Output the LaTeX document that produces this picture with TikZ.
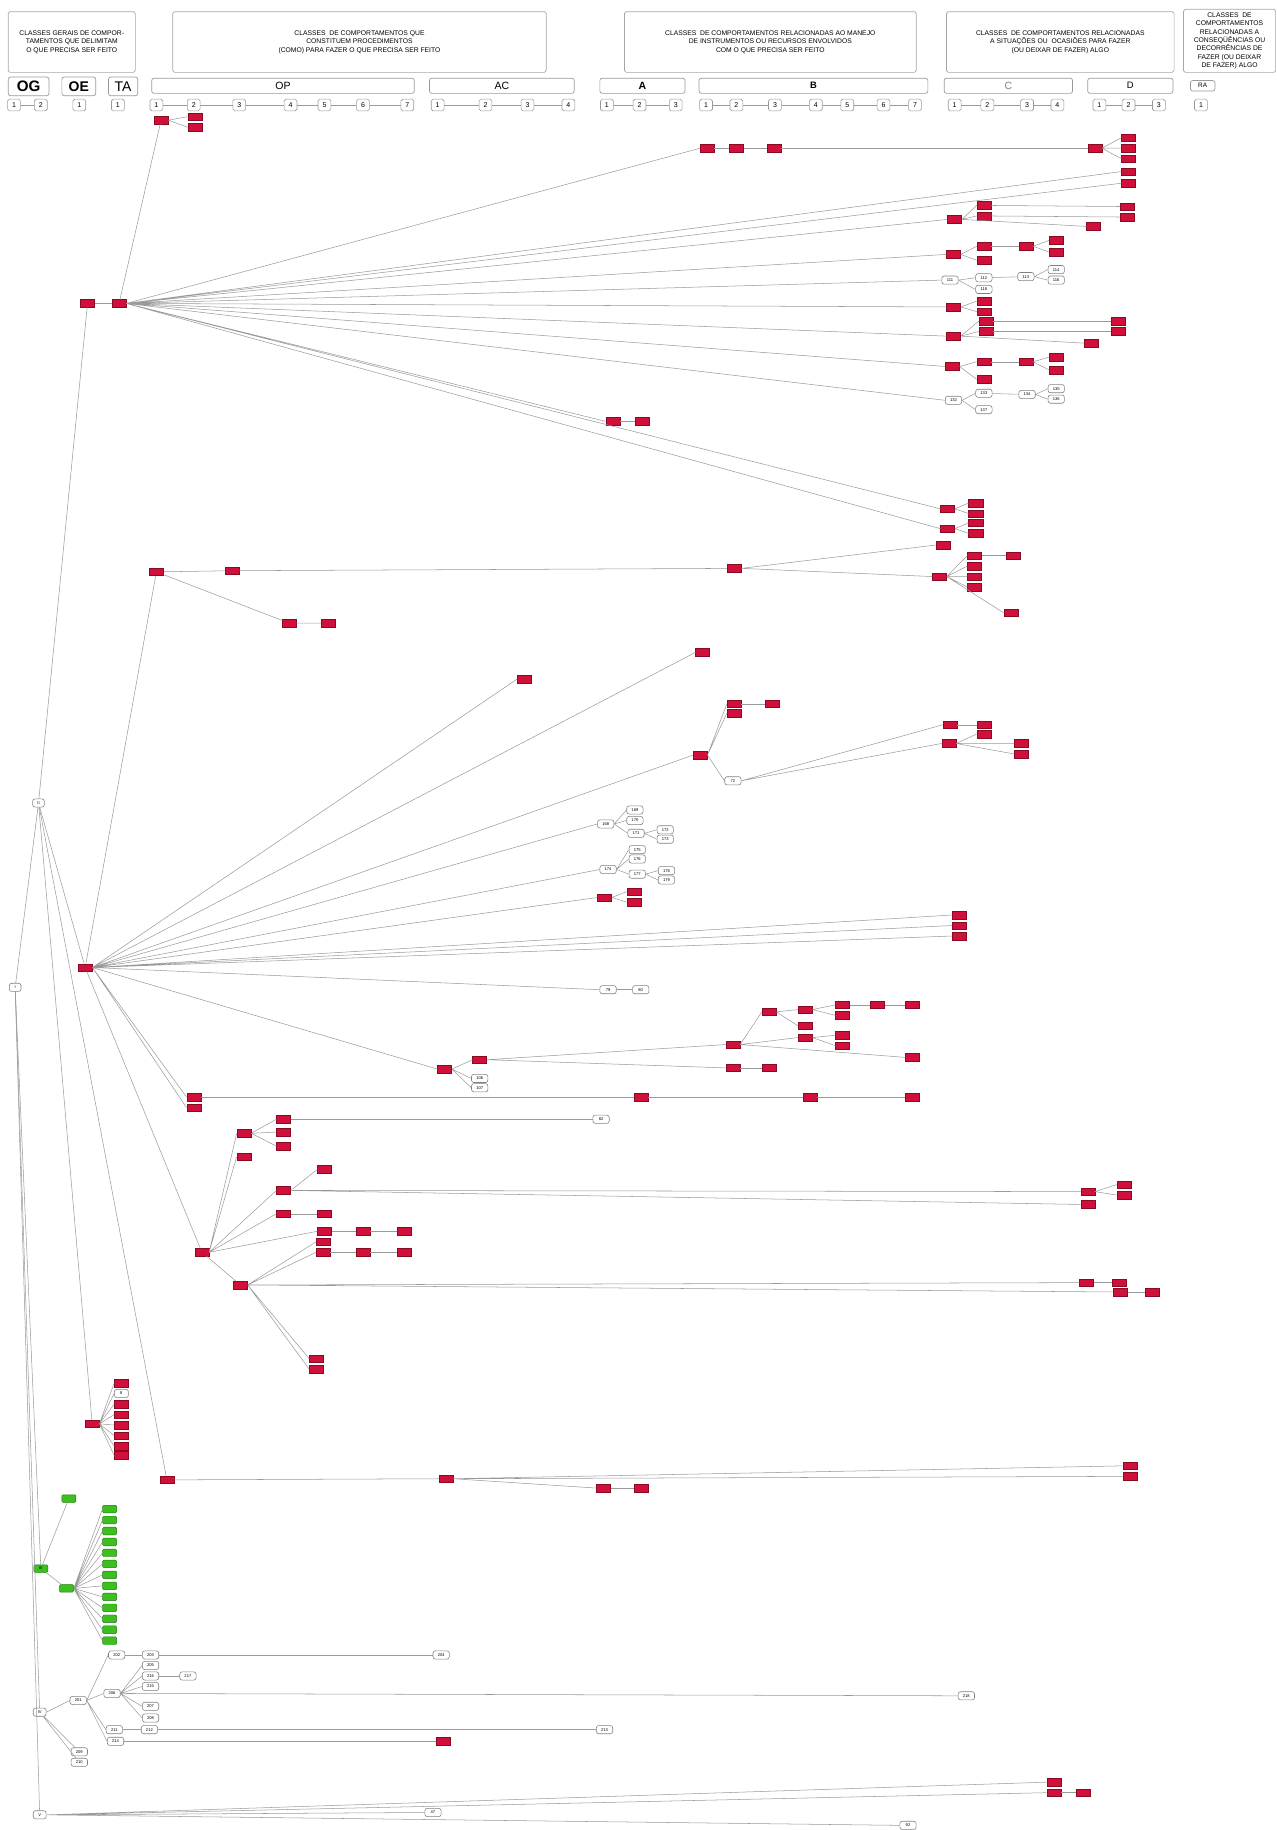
\documentclass[tikz,border=0pt]{standalone}
\usepackage{fontspec}
\setmainfont{Liberation Sans}
\definecolor{redfill}{HTML}{D0103A}
\definecolor{redline}{HTML}{8A0A22}
\definecolor{greenfill}{HTML}{3CC01E}
\definecolor{greenline}{HTML}{1F7A10}
\definecolor{edgegray}{HTML}{9A9A9A}

\begin{document}
\begin{tikzpicture}[x=1pt, y=-1pt,
    hdr/.style = {draw=gray!70, rounded corners=1.5pt, line width=0.6pt,
      align=center, inner sep=0pt, font=\fontsize{5.8}{7.2}\selectfont},
    lvl/.style = {draw=gray!80, rounded corners=2pt, line width=0.6pt,
      minimum height=13pt, inner sep=0pt, font=\fontsize{9}{9}\selectfont},
    num/.style = {draw=gray!80, rounded corners=1.5pt, line width=0.5pt,
      minimum width=11pt, minimum height=10pt, inner sep=0pt,
      font=\fontsize{6}{6}\selectfont},
    base/.style = {rectangle, minimum width=12pt, minimum height=6.5pt,
      inner sep=0pt, font=\fontsize{3.5}{3.5}\selectfont},
    rn/.style = {base, fill=redfill, draw=redline, line width=0.35pt},
    wn/.style = {base, draw=gray, rounded corners=2pt, fill=white,
      minimum width=14pt, minimum height=7pt, line width=0.5pt},
    gn/.style = {base, fill=greenfill, draw=greenline, rounded corners=1pt},
    edge/.style = {draw=edgegray, line width=0.45pt}
]
  \useasboundingbox (0,0) rectangle (1094,1568);

  % header boxes
  \node[hdr, minimum width=109pt, minimum height=52pt] (hOG) at (61.5,36)
    {CLASSES GERAIS DE COMPOR-\\TAMENTOS QUE DELIMITAM\\O QUE PRECISA SER FEITO};
  \node[hdr, minimum width=320pt, minimum height=52pt] (hOP) at (308,36)
    {CLASSES\ \ DE COMPORTAMENTOS QUE\\CONSTITUEM PROCEDIMENTOS\\(COMO) PARA FAZER O QUE PRECISA SER FEITO};
  \node[hdr, minimum width=250pt, minimum height=52pt] (hAB) at (660,36)
    {CLASSES\ \ DE COMPORTAMENTOS RELACIONADAS AO MANEJO\\DE INSTRUMENTOS OU RECURSOS ENVOLVIDOS\\COM O QUE PRECISA SER FEITO};
  \node[hdr, minimum width=195pt, minimum height=52pt] (hCD) at (908.5,36)
    {CLASSES\ \ DE COMPORTAMENTOS RELACIONADAS\\A SITUAÇÕES OU\ \ OCASIÕES PARA FAZER\\(OU DEIXAR DE FAZER) ALGO};
  \node[hdr, minimum width=79pt, minimum height=54pt] (hRA) at (1053.5,35)
    {CLASSES\ \ DE\\COMPORTAMENTOS\\RELACIONADAS A\\CONSEQÜÊNCIAS OU\\DECORRÊNCIAS DE\\FAZER (OU DEIXAR\\DE FAZER) ALGO};

  % level boxes
  \node[lvl, minimum width=35pt, minimum height=16pt, font=\fontsize{13}{13}\selectfont\bfseries] (lOG) at (24.5,74) {OG};
  \node[lvl, minimum width=29pt, minimum height=16pt, font=\fontsize{12}{12}\selectfont\bfseries] (lOE) at (67.5,74) {OE};
  \node[lvl, minimum width=25pt, minimum height=16pt, font=\fontsize{12}{12}\selectfont] (lTA) at (105.5,74) {TA};
  \node[lvl, minimum width=225pt] (lOP) at (242.5,73.5) {OP};
  \node[lvl, minimum width=124pt] (lAC) at (430,73.5) {AC};
  \node[lvl, minimum width=73pt, font=\fontsize{9}{9}\selectfont\bfseries] (lA) at (550.5,73.5) {A};
  \node[lvl, minimum width=196pt, font=\fontsize{8}{8}\selectfont\bfseries] (lB) at (697,73.5) {B};
  \node[lvl, minimum width=110pt, text=gray] (lC) at (864,73.5) {C};
  \node[lvl, minimum width=73pt, font=\fontsize{8}{8}\selectfont] (lD) at (968.5,73.5) {D};
  \node[lvl, minimum width=21pt, minimum height=9pt, font=\fontsize{5.5}{5.5}\selectfont] (lRA) at (1030.5,73.5) {RA};

  % numbered steps
  \node[num] (og1) at (12,90) {1};  \node[num] (og2) at (35,90) {2};
  \node[num] (oe1) at (68,90) {1};
  \node[num] (ta1) at (101,90) {1};
  \node[num] (op1) at (134,90) {1}; \node[num] (op2) at (166,90) {2};
  \node[num] (op3) at (205,90) {3}; \node[num] (op4) at (249,90) {4};
  \node[num] (op5) at (278,90) {5}; \node[num] (op6) at (311,90) {6};
  \node[num] (op7) at (349,90) {7};
  \node[num] (ac1) at (375,90) {1}; \node[num] (ac2) at (416,90) {2};
  \node[num] (ac3) at (452,90) {3}; \node[num] (ac4) at (487,90) {4};
  \node[num] (a1) at (520,90) {1};  \node[num] (a2) at (548,90) {2};
  \node[num] (a3) at (579,90) {3};
  \node[num] (b1) at (605,90) {1};  \node[num] (b2) at (631,90) {2};
  \node[num] (b3) at (664,90) {3};  \node[num] (b4) at (699,90) {4};
  \node[num] (b5) at (726,90) {5};  \node[num] (b6) at (757,90) {6};
  \node[num] (b7) at (784,90) {7};
  \node[num] (c1) at (818,90) {1};  \node[num] (c2) at (846,90) {2};
  \node[num] (c3) at (880,90) {3};  \node[num] (c4) at (906,90) {4};
  \node[num] (d1) at (942,90) {1};  \node[num] (d2) at (967,90) {2};
  \node[num] (d3) at (993,90) {3};
  \node[num] (ra1) at (1029,90) {1};

  \draw[edge] (og1) -- (og2);
  \draw[edge] (op1) -- (op2) -- (op3) -- (op4) -- (op5) -- (op6) -- (op7);
  \draw[edge] (ac1) -- (ac2) -- (ac3) -- (ac4);
  \draw[edge] (a1) -- (a2) -- (a3);
  \draw[edge] (b1) -- (b2) -- (b3) -- (b4) -- (b5) -- (b6) -- (b7);
  \draw[edge] (c1) -- (c2) -- (c3) -- (c4);
  \draw[edge] (d1) -- (d2) -- (d3);

  % roots
  \node[wn, minimum width=10pt] (wI) at (13,846) {I};
  \node[wn, minimum width=10pt] (wII) at (33,688) {II};
  \node[gn] (gIII) at (35,1344) {III};
  \node[wn, minimum width=11pt] (wIV) at (34,1467) {IV};
  \node[wn, minimum width=11pt] (wV) at (34,1555) {V};

  % branch A
  \node[rn] (rA1) at (75,260) {};   \node[rn] (rA2) at (102,260) {};
  \node[rn] (rA3) at (138,103) {};  \node[rn] (rA4) at (167,100) {};
  \node[rn] (rA5) at (167,109) {};
  \node[rn] (rA6) at (606,127) {};  \node[rn] (rA7) at (631,127) {};
  \node[rn] (rA8) at (663,127) {};  \node[rn] (rA9) at (938,127) {};
  \node[rn] (rA10) at (967,118) {}; \node[rn] (rA11) at (967,127) {};
  \node[rn] (rA12) at (967,136) {};
  \node[rn] (rA13) at (967,147) {}; \node[rn] (rA14) at (967,157) {};
  \node[rn] (rA15) at (818,188) {}; \node[rn] (rA16) at (843,176) {};
  \node[rn] (rA17) at (843,185) {}; \node[rn] (rA18) at (966,177) {};
  \node[rn] (rA19) at (966,186) {}; \node[rn] (rA20) at (937,194) {};
  \node[rn] (rA21) at (817,218) {}; \node[rn] (rA22) at (843,211) {};
  \node[rn] (rA23) at (843,223) {}; \node[rn] (rA24) at (879,211) {};
  \node[rn] (rA25) at (905,206) {}; \node[rn] (rA26) at (905,216) {};
  \node[wn] (w111) at (814,240) {111}; \node[wn] (w112) at (843,238) {112};
  \node[wn] (w118) at (843,248) {118}; \node[wn] (w113) at (879,237) {113};
  \node[wn] (w114) at (905,231) {114}; \node[wn] (w116) at (905,240) {116};
  \node[rn] (rA27) at (817,263) {}; \node[rn] (rA28) at (843,258) {};
  \node[rn] (rA29) at (843,267) {};
  \node[rn] (rA30) at (817,288) {}; \node[rn] (rA31) at (845,275) {};
  \node[rn] (rA32) at (845,284) {}; \node[rn] (rA33) at (958,275) {};
  \node[rn] (rA34) at (958,284) {}; \node[rn] (rA35) at (935,294) {};
  \node[rn] (rA36) at (816,314) {}; \node[rn] (rA37) at (843,310) {};
  \node[rn] (rA38) at (843,325) {}; \node[rn] (rA39) at (879,310) {};
  \node[rn] (rA40) at (905,306) {}; \node[rn] (rA41) at (905,317) {};
  \node[wn] (w132) at (817,343) {132}; \node[wn] (w133) at (843,337) {133};
  \node[wn] (w137) at (843,351) {137}; \node[wn] (w134) at (880,338) {134};
  \node[wn] (w135) at (905,333) {135}; \node[wn] (w136) at (905,342) {136};
  \node[rn] (rA42) at (525,361) {}; \node[rn] (rA43) at (550,361) {};
  \node[rn] (rA44) at (812,436) {}; \node[rn] (rA45) at (836,431) {};
  \node[rn] (rA46) at (836,440) {};
  \node[rn] (rA47) at (812,453) {}; \node[rn] (rA48) at (836,448) {};
  \node[rn] (rA49) at (836,457) {};

  % branch B and C
  \node[rn] (rC) at (73,829) {};
  \node[rn] (rB1) at (134,490) {};  \node[rn] (rB2) at (199,489) {};
  \node[rn] (rB3) at (629,487) {};  \node[rn] (rB4) at (808,467) {};
  \node[rn] (rB5) at (805,494) {};  \node[rn] (rB6) at (835,476) {};
  \node[rn] (rB7) at (835,485) {};  \node[rn] (rB8) at (835,494) {};
  \node[rn] (rB9) at (835,503) {};  \node[rn] (rB10) at (868,476) {};
  \node[rn] (rB11) at (866,525) {};
  \node[rn] (rB12) at (248,534) {}; \node[rn] (rB13) at (281,534) {};

  \node[rn] (rC1) at (449,582) {};
  \node[rn] (rC2) at (602,559) {};
  \node[rn] (rC3) at (600,647) {};  \node[rn] (rC4) at (629,603) {};
  \node[rn] (rC5) at (629,611) {};  \node[rn] (rC6) at (662,603) {};
  \node[wn] (w72) at (628,669) {72};
  \node[rn] (rC7) at (814,621) {};  \node[rn] (rC8) at (843,621) {};
  \node[rn] (rC9) at (813,637) {};  \node[rn] (rC10) at (843,629) {};
  \node[rn] (rC11) at (875,637) {}; \node[rn] (rC12) at (875,646) {};
  \node[wn] (w168) at (519,706) {168}; \node[wn] (w169) at (544,694) {169};
  \node[wn] (w170) at (544,703) {170}; \node[wn] (w171) at (545,714) {171};
  \node[wn] (w172) at (570,711) {172}; \node[wn] (w173) at (570,719) {173};
  \node[wn] (w174) at (521,745) {174}; \node[wn] (w175) at (546,728) {175};
  \node[wn] (w176) at (546,736) {176}; \node[wn] (w177) at (546,749) {177};
  \node[wn] (w178) at (571,746) {178}; \node[wn] (w179) at (571,754) {179};
  \node[rn] (rC13) at (518,769) {}; \node[rn] (rC14) at (543,764) {};
  \node[rn] (rC15) at (543,773) {};
  \node[rn] (rC16) at (822,784) {}; \node[rn] (rC17) at (822,793) {};
  \node[rn] (rC18) at (822,802) {};
  \node[wn] (w79) at (521,848) {79}; \node[wn] (w80) at (549,848) {80};
  \node[rn] (rC19) at (381,916) {}; \node[rn] (rC20) at (411,908) {};
  \node[wn] (w106) at (411,924) {106}; \node[wn] (w107) at (411,932) {107};
  \node[rn] (rC21) at (628,895) {}; \node[rn] (rC22) at (659,867) {};
  \node[rn] (rC23) at (690,865) {}; \node[rn] (rC24) at (690,879) {};
  \node[rn] (rC25) at (722,861) {}; \node[rn] (rC26) at (722,870) {};
  \node[rn] (rC27) at (752,861) {}; \node[rn] (rC28) at (782,861) {};
  \node[rn] (rC29) at (690,889) {}; \node[rn] (rC30) at (722,887) {};
  \node[rn] (rC31) at (722,896) {}; \node[rn] (rC32) at (782,906) {};
  \node[rn] (rC33) at (628,915) {}; \node[rn] (rC34) at (659,915) {};
  \node[rn] (rC35) at (166,940) {}; \node[rn] (rC36) at (549,940) {};
  \node[rn] (rC37) at (694,940) {}; \node[rn] (rC38) at (782,940) {};
  \node[rn] (rC39) at (166,949) {};

  % branch D
  \node[rn] (rD) at (173,1073) {};
  \node[rn] (rD1) at (209,971) {};  \node[rn] (rD2) at (243,959) {};
  \node[rn] (rD3) at (243,970) {};  \node[rn] (rD4) at (243,982) {};
  \node[wn] (w82) at (515,959) {82};
  \node[rn] (rD5) at (209,991) {};
  \node[rn] (rD6) at (243,1020) {}; \node[rn] (rD7) at (278,1002) {};
  \node[rn] (rD8) at (932,1021) {}; \node[rn] (rD9) at (963,1015) {};
  \node[rn] (rD10) at (963,1024) {}; \node[rn] (rD11) at (932,1032) {};
  \node[rn] (rD12) at (243,1040) {}; \node[rn] (rD13) at (278,1040) {};
  \node[rn] (rD14) at (278,1055) {}; \node[rn] (rD15) at (311,1055) {};
  \node[rn] (rD16) at (346,1055) {};
  \node[rn] (rD17) at (277,1064) {};
  \node[rn] (rD18) at (277,1073) {}; \node[rn] (rD19) at (311,1073) {};
  \node[rn] (rD20) at (346,1073) {};
  \node[rn] (rD21) at (206,1101) {}; \node[rn] (rD22) at (931,1099) {};
  \node[rn] (rD23) at (959,1099) {}; \node[rn] (rD24) at (960,1107) {};
  \node[rn] (rD25) at (987,1107) {};
  \node[rn] (rD26) at (271,1164) {}; \node[rn] (rD27) at (271,1173) {};

  % branch E and F
  \node[rn] (rE) at (79,1220) {};
  \node[rn] (rE1) at (104,1185) {}; \node[wn, minimum width=12pt] (w8) at (104,1194) {8};
  \node[rn] (rE2) at (104,1203) {}; \node[rn] (rE3) at (104,1212) {};
  \node[rn] (rE4) at (104,1221) {}; \node[rn] (rE5) at (104,1230) {};
  \node[rn] (rE6) at (104,1239) {}; \node[rn] (rE7) at (104,1247) {};
  \node[rn] (rF) at (143,1268) {};  \node[rn] (rF1) at (382,1267) {};
  \node[rn] (rF2) at (968,1256) {}; \node[rn] (rF3) at (968,1265) {};
  \node[rn] (rF4) at (517,1275) {}; \node[rn] (rF5) at (549,1275) {};

  % branch III
  \node[gn] (g2) at (59,1284) {};
  \node[gn] (g3) at (57,1361) {};
  \node[gn] (g4) at (94,1293) {};   \node[gn] (g5) at (94,1302.4) {};
  \node[gn] (g6) at (94,1311.8) {}; \node[gn] (g7) at (94,1321.2) {};
  \node[gn] (g8) at (94,1330.6) {}; \node[gn] (g9) at (94,1340) {};
  \node[gn] (g10) at (94,1349.4) {}; \node[gn] (g11) at (94,1358.8) {};
  \node[gn] (g12) at (94,1368.2) {}; \node[gn] (g13) at (94,1377.6) {};
  \node[gn] (g14) at (94,1387) {};  \node[gn] (g15) at (94,1396.4) {};
  \node[gn] (g16) at (94,1405.8) {};

  % branch IV
  \node[wn] (w201) at (67,1457) {201};
  \node[wn] (w202) at (100,1418) {202}; \node[wn] (w203) at (129,1418) {203};
  \node[wn] (w204) at (378,1418) {204};
  \node[wn] (w206) at (96,1451) {206};
  \node[wn] (w205) at (129,1427) {205}; \node[wn] (w216) at (129,1436) {216};
  \node[wn] (w217) at (161,1436) {217}; \node[wn] (w215) at (129,1445) {215};
  \node[wn] (w207) at (129,1462) {207}; \node[wn] (w208) at (129,1472) {208};
  \node[wn] (w218) at (828,1453) {218};
  \node[wn] (w211) at (98,1482) {211}; \node[wn] (w212) at (128,1482) {212};
  \node[wn] (w213) at (518,1482) {213};
  \node[wn] (w214) at (99,1492) {214}; \node[rn] (rG1) at (380,1492) {};
  \node[wn] (w209) at (68,1501) {209}; \node[wn] (w210) at (68,1510) {210};

  % branch V
  \node[rn] (rH1) at (903,1527) {}; \node[rn] (rH2) at (903,1536) {};
  \node[rn] (rH3) at (928,1536) {};
  \node[wn] (w47) at (371,1553) {47};
  \node[wn] (w92) at (778,1564) {92};

  % connectors
  \draw[edge] (wI) -- (wII);
  \draw[edge] (wI) -- (gIII);
  \draw[edge] (wI) -- (wIV);
  \draw[edge] (wI) -- (wV);
  \draw[edge] (wII) -- (rA1);
  \draw[edge] (wII) -- (rC);
  \draw[edge] (wII) -- (rE);
  \draw[edge] (wII) -- (rF);

  \draw[edge] (rA1) -- (rA2);
  \draw[edge] (rA2) -- (rA3);
  \draw[edge] (rA3.east) -- (rA4.west) (rA3.east) -- (rA5.west);
  \draw[edge] (rA2.east) -- (rA6.west) (rA2.east) -- (rA13.west)
    (rA2.east) -- (rA14.west) (rA2.east) -- (rA15.west)
    (rA2.east) -- (rA21.west) (rA2.east) -- (w111.west)
    (rA2.east) -- (rA27.west) (rA2.east) -- (rA30.west)
    (rA2.east) -- (rA36.west) (rA2.east) -- (w132.west)
    (rA2.east) -- (rA42.west) (rA2.east) -- (rA44.west)
    (rA2.east) -- (rA47.west);
  \draw[edge] (rA6) -- (rA7) -- (rA8) -- (rA9);
  \draw[edge] (rA9.east) -- (rA10.west) (rA9.east) -- (rA11.west) (rA9.east) -- (rA12.west);
  \draw[edge] (rA15.east) -- (rA16.west) (rA15.east) -- (rA17.west) (rA15.east) -- (rA20.west);
  \draw[edge] (rA16) -- (rA18);
  \draw[edge] (rA17) -- (rA19);
  \draw[edge] (rA21.east) -- (rA22.west) (rA21.east) -- (rA23.west);
  \draw[edge] (rA22) -- (rA24);
  \draw[edge] (rA24.east) -- (rA25.west) (rA24.east) -- (rA26.west);
  \draw[edge] (w111.east) -- (w112.west) (w111.east) -- (w118.west);
  \draw[edge] (w112) -- (w113);
  \draw[edge] (w113.east) -- (w114.west) (w113.east) -- (w116.west);
  \draw[edge] (rA27.east) -- (rA28.west) (rA27.east) -- (rA29.west);
  \draw[edge] (rA30.east) -- (rA31.west) (rA30.east) -- (rA32.west) (rA30.east) -- (rA35.west);
  \draw[edge] (rA31) -- (rA33);
  \draw[edge] (rA32) -- (rA34);
  \draw[edge] (rA36.east) -- (rA37.west) (rA36.east) -- (rA38.west);
  \draw[edge] (rA37) -- (rA39);
  \draw[edge] (rA39.east) -- (rA40.west) (rA39.east) -- (rA41.west);
  \draw[edge] (w132.east) -- (w133.west) (w132.east) -- (w137.west);
  \draw[edge] (w133) -- (w134);
  \draw[edge] (w134.east) -- (w135.west) (w134.east) -- (w136.west);
  \draw[edge] (rA42) -- (rA43);
  \draw[edge] (rA44.east) -- (rA45.west) (rA44.east) -- (rA46.west);
  \draw[edge] (rA47.east) -- (rA48.west) (rA47.east) -- (rA49.west);

  \draw[edge] (rC) -- (rB1);
  \draw[edge] (rB1) -- (rB2) -- (rB3);
  \draw[edge] (rB1) -- (rB12) -- (rB13);
  \draw[edge] (rB3.east) -- (rB4.west) (rB3.east) -- (rB5.west);
  \draw[edge] (rB5.east) -- (rB6.west) (rB5.east) -- (rB7.west) (rB5.east) -- (rB8.west)
    (rB5.east) -- (rB9.west) (rB5.east) -- (rB11.west);
  \draw[edge] (rB6) -- (rB10);

  \draw[edge] (rC.east) -- (rC1.west) (rC.east) -- (rC2.west)
    (rC.east) -- (rC3.west) (rC.east) -- (w168.west)
    (rC.east) -- (w174.west) (rC.east) -- (rC13.west)
    (rC.east) -- (rC16.west) (rC.east) -- (rC17.west)
    (rC.east) -- (rC18.west) (rC.east) -- (w79.west)
    (rC.east) -- (rC19.west) (rC.east) -- (rC35.west)
    (rC.east) -- (rC39.west);
  \draw[edge] (rC) -- (rD);
  \draw[edge] (rC3.east) -- (rC4.west) (rC3.east) -- (rC5.west) (rC3.east) -- (w72.west);
  \draw[edge] (rC4) -- (rC6);
  \draw[edge] (w72.east) -- (rC7.west) (w72.east) -- (rC9.west);
  \draw[edge] (rC7) -- (rC8);
  \draw[edge] (rC9.east) -- (rC10.west) (rC9.east) -- (rC11.west) (rC9.east) -- (rC12.west);
  \draw[edge] (w168.east) -- (w169.west) (w168.east) -- (w170.west) (w168.east) -- (w171.west);
  \draw[edge] (w171.east) -- (w172.west) (w171.east) -- (w173.west);
  \draw[edge] (w174.east) -- (w175.west) (w174.east) -- (w176.west) (w174.east) -- (w177.west);
  \draw[edge] (w177.east) -- (w178.west) (w177.east) -- (w179.west);
  \draw[edge] (rC13.east) -- (rC14.west) (rC13.east) -- (rC15.west);
  \draw[edge] (w79) -- (w80);
  \draw[edge] (rC19.east) -- (rC20.west) (rC19.east) -- (w106.west) (rC19.east) -- (w107.west);
  \draw[edge] (rC20.east) -- (rC21.west) (rC20.east) -- (rC33.west);
  \draw[edge] (rC21.east) -- (rC22.west) (rC21.east) -- (rC29.west) (rC21.east) -- (rC32.west);
  \draw[edge] (rC22.east) -- (rC23.west) (rC22.east) -- (rC24.west);
  \draw[edge] (rC23.east) -- (rC25.west) (rC23.east) -- (rC26.west);
  \draw[edge] (rC25) -- (rC27) -- (rC28);
  \draw[edge] (rC29.east) -- (rC30.west) (rC29.east) -- (rC31.west);
  \draw[edge] (rC33) -- (rC34);
  \draw[edge] (rC35) -- (rC36) -- (rC37) -- (rC38);

  \draw[edge] (rD.east) -- (rD1.west) (rD.east) -- (rD5.west)
    (rD.east) -- (rD6.west) (rD.east) -- (rD12.west)
    (rD.east) -- (rD14.west) (rD) -- (rD21);
  \draw[edge] (rD1.east) -- (rD2.west) (rD1.east) -- (rD3.west) (rD1.east) -- (rD4.west);
  \draw[edge] (rD2) -- (w82);
  \draw[edge] (rD6.east) -- (rD7.west) (rD6.east) -- (rD8.west) (rD6.east) -- (rD11.west);
  \draw[edge] (rD8.east) -- (rD9.west) (rD8.east) -- (rD10.west);
  \draw[edge] (rD12) -- (rD13);
  \draw[edge] (rD14) -- (rD15) -- (rD16);
  \draw[edge] (rD21.east) -- (rD17.west) (rD21.east) -- (rD18.west)
    (rD21.east) -- (rD22.west) (rD21.east) -- (rD24.west)
    (rD21.east) -- (rD26.west) (rD21.east) -- (rD27.west);
  \draw[edge] (rD18) -- (rD19) -- (rD20);
  \draw[edge] (rD22) -- (rD23);
  \draw[edge] (rD24) -- (rD25);

  \draw[edge] (rE.east) -- (rE1.west) (rE.east) -- (w8.west)
    (rE.east) -- (rE2.west) (rE.east) -- (rE3.west)
    (rE.east) -- (rE4.west) (rE.east) -- (rE5.west)
    (rE.east) -- (rE6.west) (rE.east) -- (rE7.west);
  \draw[edge] (rF) -- (rF1);
  \draw[edge] (rF1.east) -- (rF2.west) (rF1.east) -- (rF3.west) (rF1.east) -- (rF4.west);
  \draw[edge] (rF4) -- (rF5);

  \draw[edge] (gIII) -- (g2);
  \draw[edge] (gIII) -- (g3);
  \draw[edge] (g3.east) -- (g4.west) (g3.east) -- (g5.west) (g3.east) -- (g6.west)
    (g3.east) -- (g7.west) (g3.east) -- (g8.west) (g3.east) -- (g9.west)
    (g3.east) -- (g10.west) (g3.east) -- (g11.west) (g3.east) -- (g12.west)
    (g3.east) -- (g13.west) (g3.east) -- (g14.west) (g3.east) -- (g15.west)
    (g3.east) -- (g16.west);

  \draw[edge] (wIV.east) -- (w201.west) (wIV) -- (w209) (wIV) -- (w210);
  \draw[edge] (w201.east) -- (w202.west) (w201.east) -- (w206.west)
    (w201.east) -- (w211.west) (w201.east) -- (w214.west);
  \draw[edge] (w202) -- (w203) -- (w204);
  \draw[edge] (w206.east) -- (w205.west) (w206.east) -- (w216.west)
    (w206.east) -- (w215.west) (w206.east) -- (w207.west)
    (w206.east) -- (w208.west) (w206.east) -- (w218.west);
  \draw[edge] (w216) -- (w217);
  \draw[edge] (w211) -- (w212) -- (w213);
  \draw[edge] (w214) -- (rG1);

  \draw[edge] (wV.east) -- (rH1.west) (wV.east) -- (rH2.west)
    (wV.east) -- (w47.west) (wV.east) -- (w92.west);
  \draw[edge] (rH2) -- (rH3);

\end{tikzpicture}
\end{document}
